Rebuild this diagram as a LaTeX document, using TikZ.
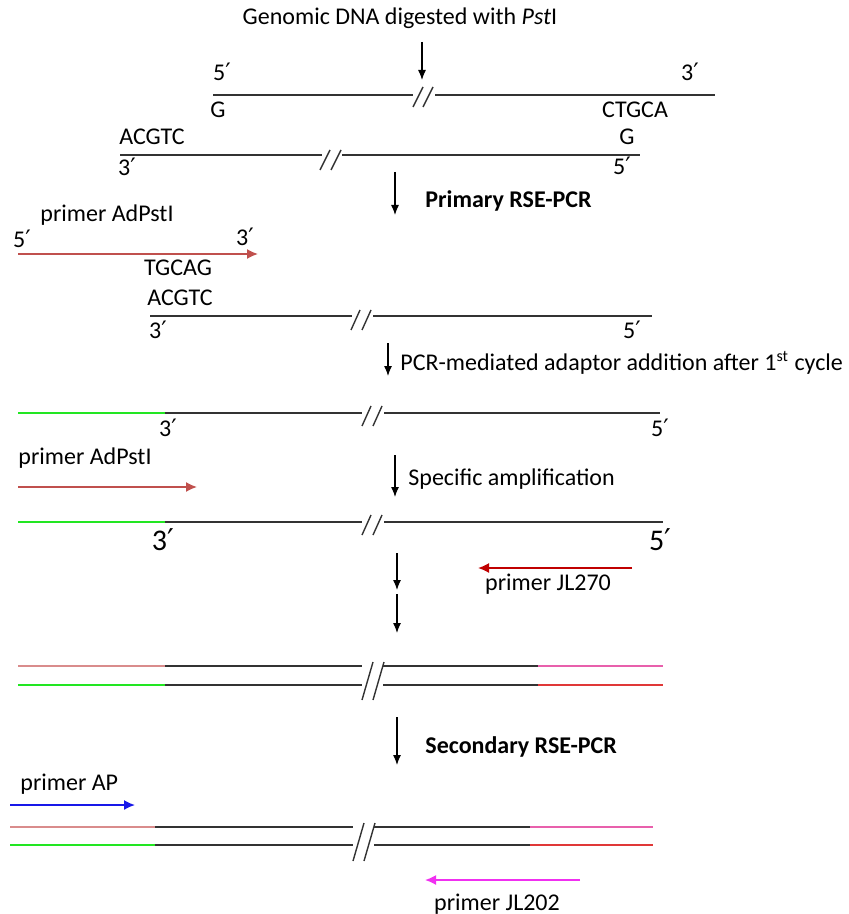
\documentclass[tikz,border=0pt]{standalone}
\usepackage{fontspec}
\setmainfont{Carlito}
\newfontfamily\primefont{DejaVu Sans}
\newcommand{\prm}{{\primefont ′}}
\usetikzlibrary{arrows.meta}
\definecolor{rosered}{HTML}{C0504D}
\definecolor{darkred}{HTML}{C00000}
\definecolor{rosy}{HTML}{D98C8C}
\definecolor{brightgreen}{HTML}{22E622}
\definecolor{hotpink}{HTML}{E860AC}
\definecolor{linered}{HTML}{E03838}
\definecolor{pblue}{HTML}{1818E8}
\definecolor{pmagenta}{HTML}{F030F0}
\definecolor{strandgray}{HTML}{333333}
\begin{document}
\begin{tikzpicture}[x=0.5pt,y=-0.5pt,
  txt/.style={font=\fontsize{12}{14}\selectfont, inner sep=0pt, anchor=base},
  txtw/.style={txt, anchor=base west},
  boldw/.style={font=\fontsize{12}{14}\selectfont\bfseries, inner sep=0pt, anchor=base west},
  big/.style={font=\fontsize{15}{17}\selectfont, inner sep=0pt, anchor=base},
  strand/.style={line width=1pt, draw=strandgray},
  slash/.style={line width=0.7pt, draw=strandgray},
  down/.style={line width=0.6pt, draw=black, -{Latex[length=5pt,width=4pt]}},
  primer/.style={line width=0.8pt, -{Latex[length=5.5pt,width=5pt]}},
]
\useasboundingbox (0,0) rectangle (849,914);

% ---- title and first arrow
\node[txt] (title) at (400,25) {Genomic DNA digested with \textit{Pst}I};
\coordinate (a1s) at (422,42);
\coordinate (a1e) at (422,80);
\draw[down] (a1s) -- (a1e);

% ---- digested fragment, top strand
\draw[strand] (213,95) -- (413,95) (435,95) -- (715,95);
\draw[slash] (413,107) -- (423,87) (423,107) -- (433,87);
\node[txt] (t5) at (222,81) {5\prm};
\node[txt] (t3) at (690,81) {3\prm};
\node[txt] (tG) at (218,118) {G};
\node[txt] (tC) at (635,118) {CTGCA};
% bottom strand
\node[txt] (bA) at (152,145) {ACGTC};
\node[txt] (bG) at (627,145) {G};
\draw[strand] (120,155) -- (322,155) (342,155) -- (640,155);
\draw[slash] (320,170) -- (330,150) (331,170) -- (341,150);
\node[txt] (b3) at (127,176) {3\prm};
\node[txt] (b5) at (622,175) {5\prm};

% ---- primary RSE-PCR
\coordinate (a2s) at (395,172);
\coordinate (a2e) at (395,215);
\draw[down] (a2s) -- (a2e);
\node[boldw] (prim) at (425,208) {Primary RSE-PCR};

\node[txtw] (pad1) at (40,222) {primer AdPstI};
\node[txt] (p5) at (22,248) {5\prm};
\node[txt] (p3) at (245,246) {3\prm};
\coordinate (pr1s) at (18,254);
\coordinate (pr1e) at (258,254);
\draw[primer, draw=rosered, rosered] (pr1s) -- (pr1e);
\node[txt] (tg) at (178,276) {TGCAG};
\node[txt] (ac) at (180,306) {ACGTC};
\draw[strand] (150,316) -- (352,316) (373,316) -- (652,316);
\draw[slash] (351,330) -- (360,310) (362,330) -- (371,310);
\node[txt] (s3) at (158,338) {3\prm};
\node[txt] (s5) at (632,338) {5\prm};

% ---- adaptor addition
\coordinate (a3s) at (388,343);
\coordinate (a3e) at (388,376);
\draw[down] (a3s) -- (a3e);
\node[txtw] (adapt) at (400,370) {PCR-mediated adaptor addition after 1\textsuperscript{st} cycle};

\draw[line width=1pt, brightgreen] (18,413) -- (165,413);
\draw[strand] (165,413) -- (362,413) (384,413) -- (660,413);
\draw[slash] (362,426) -- (371,406) (373,426) -- (382,406);
\node[txt] (c3) at (168,436) {3\prm};
\node[txt] (c5) at (660,436) {5\prm};

% ---- specific amplification
\node[txtw] (pad2) at (18,464) {primer AdPstI};
\coordinate (a4s) at (395,455);
\coordinate (a4e) at (395,497);
\draw[down] (a4s) -- (a4e);
\node[txtw] (spec) at (408,485) {Specific amplification};
\coordinate (pr2s) at (18,487);
\coordinate (pr2e) at (197,487);
\draw[primer, draw=rosered, rosered] (pr2s) -- (pr2e);

\draw[line width=1pt, brightgreen] (18,522) -- (165,522);
\draw[strand] (165,522) -- (362,522) (384,522) -- (663,522);
\draw[slash] (362,535) -- (371,515) (373,535) -- (382,515);
\node[big] (d3) at (163,550) {3\prm};
\node[big] (d5) at (660,550) {5\prm};

\coordinate (a5s) at (397,553);
\coordinate (a5e) at (397,590);
\draw[down] (a5s) -- (a5e);
\coordinate (pr3s) at (632,568);
\coordinate (pr3e) at (478,568);
\draw[primer, draw=darkred, darkred] (pr3s) -- (pr3e);
\node[txt] (jl270) at (548,590) {primer JL270};
\coordinate (a6s) at (397,594);
\coordinate (a6e) at (397,633);
\draw[down] (a6s) -- (a6e);

% ---- double strand product
\draw[line width=1pt, rosy] (18,666) -- (165,666);
\draw[line width=1pt, brightgreen] (18,685) -- (165,685);
\draw[strand] (165,666) -- (362,666) (383,666) -- (538,666);
\draw[strand] (165,685) -- (362,685) (383,685) -- (538,685);
\draw[line width=1pt, hotpink] (538,666) -- (663,666);
\draw[line width=1pt, linered] (538,685) -- (663,685);
\draw[slash] (362,700) -- (373,662) (373,700) -- (384,662);

% ---- secondary RSE-PCR
\coordinate (a7s) at (397,717);
\coordinate (a7e) at (397,765);
\draw[down] (a7s) -- (a7e);
\node[boldw] (sec) at (425,753) {Secondary RSE-PCR};

\node[txtw] (pap) at (20,790) {primer AP};
\coordinate (pr4s) at (10,805);
\coordinate (pr4e) at (135,805);
\draw[primer, draw=pblue, pblue] (pr4s) -- (pr4e);

\draw[line width=1pt, rosy] (10,827) -- (155,827);
\draw[line width=1pt, brightgreen] (10,845) -- (155,845);
\draw[strand] (155,827) -- (353,827) (374,827) -- (530,827);
\draw[strand] (155,845) -- (353,845) (374,845) -- (530,845);
\draw[line width=1pt, hotpink] (530,827) -- (653,827);
\draw[line width=1pt, linered] (530,845) -- (653,845);
\draw[slash] (353,861) -- (364,823) (364,861) -- (375,823);

\coordinate (pr5s) at (580,880);
\coordinate (pr5e) at (425,880);
\draw[primer, draw=pmagenta, pmagenta] (pr5s) -- (pr5e);
\node[txt] (jl202) at (497,910) {primer JL202};
\end{tikzpicture}
\end{document}
